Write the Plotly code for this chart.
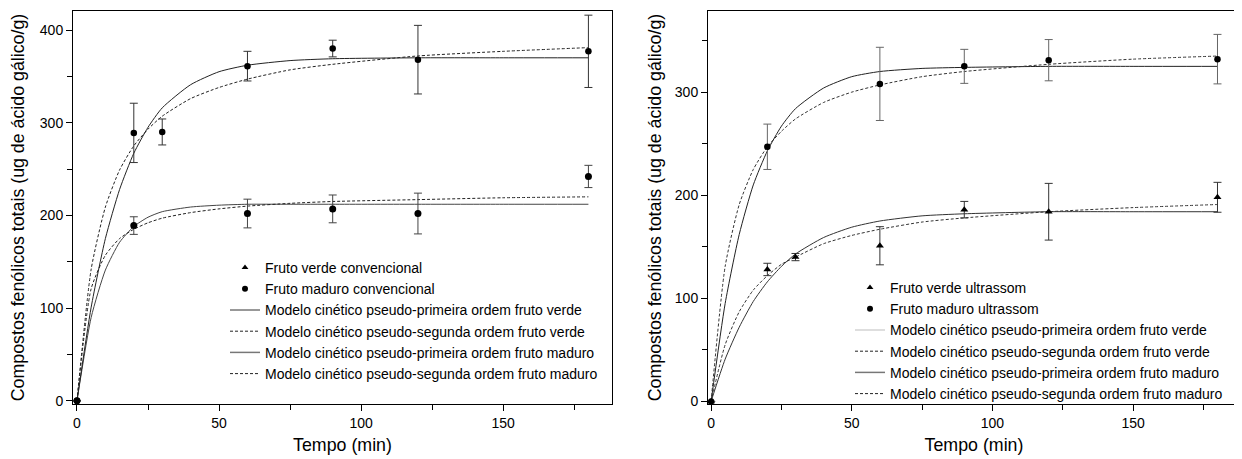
import plotly.graph_objects as go

# ---------------- data: left panel (convencional) ----------------
t_verde_conv = [0, 20, 60, 90, 120, 180]
y_verde_conv = [0, 189, 202, 207, 202, 242]
e_verde_conv = [0, 9.5, 15.5, 15, 22, 12]

t_maduro_conv = [0, 20, 30, 60, 90, 120, 180]
y_maduro_conv = [0, 289, 290, 361, 380, 368, 377]
e_maduro_conv = [0, 32, 14, 16, 9, 37, 39]

# model curves
t_model = [0, 5, 10, 15, 20, 25, 30, 40, 50, 60, 75, 90, 120, 150, 180]
pfo_verde_conv = [0, 90, 141, 171, 188, 198, 204, 209, 211, 212, 212, 212, 212, 212, 212]
pso_verde_conv = [0, 121, 157, 175, 185, 192, 197, 203, 207, 210, 213, 215, 217, 219, 220]
pfo_maduro_conv = [0, 101, 175, 228, 267, 295, 316, 341, 355, 362, 367, 369, 370, 370, 370]
pso_maduro_conv = [0, 142, 209, 249, 275, 293, 307, 326, 338, 347, 357, 363, 372, 377, 381]

# ---------------- data: right panel (ultrassom) ----------------
t_verde_us = [0, 20, 30, 60, 90, 120, 180]
y_verde_us = [0, 128, 140, 151, 186, 184, 198]
e_verde_us = [0, 6, 3.5, 18.5, 8, 27.5, 14.5]

t_maduro_us = [0, 20, 60, 90, 120, 180]
y_maduro_us = [0, 247, 308, 325, 331, 332]
e_maduro_us = [0, 22, 35.5, 16.5, 20, 24]

pfo_verde_us = [0, 41, 72, 97, 116, 131, 143, 159, 169, 175, 180, 182, 184, 184, 184]
pso_verde_us = [0, 55, 87, 108, 122, 133, 140, 153, 161, 167, 174, 178, 184, 188, 191]
pfo_maduro_us = [0, 95, 162, 210, 243, 267, 284, 304, 315, 320, 323, 324, 325, 325, 325]
pso_maduro_us = [0, 131, 191, 225, 247, 262, 274, 290, 300, 307, 315, 320, 327, 332, 335]

legend_conv = ["Fruto verde convencional", "Fruto maduro convencional"]
legend_us = ["Fruto verde ultrassom", "Fruto maduro ultrassom"]
legend_models = [
    "Modelo cinético pseudo-primeira ordem fruto verde",
    "Modelo cinético pseudo-segunda ordem fruto verde",
    "Modelo cinético pseudo-primeira ordem fruto maduro",
    "Modelo cinético pseudo-segunda ordem fruto maduro",
]

FONT = "Liberation Sans, Arial, sans-serif"
DASH = "3px,2px"
TITLE_SIZE = 17.8
MSIZE = 7

# page body has an 8px default margin; size the figure to fill the rest of the window
OFF = 8
W, H = 1242 - OFF, 459 - OFF

def px(xw):   # window x pixel -> paper fraction
    return (xw - OFF) / W

def py(yw):   # window y pixel (from top) -> paper fraction
    return 1 - (yw - OFF) / H

fig = go.Figure()

def add_panel(xa, ya, leg, names, t_v, y_v, e_v, t_m, y_m, e_m,
              curves, curve_styles, legend_line_styles, verde_symbol, verde_err_col, maduro_err_col):
    for yc, (col, dash, w) in zip(curves, curve_styles):
        fig.add_trace(go.Scatter(x=t_model, y=yc, mode="lines", xaxis=xa, yaxis=ya,
                                 line=dict(color=col, dash=dash, width=w, shape="spline", smoothing=0.6),
                                 showlegend=False, hoverinfo="skip"))
    fig.add_trace(go.Scatter(x=t_v, y=y_v, mode="markers", xaxis=xa, yaxis=ya,
                             marker=dict(symbol=verde_symbol, size=MSIZE, color="black"),
                             error_y=dict(type="data", array=e_v, visible=True, color=verde_err_col,
                                          thickness=1, width=4),
                             showlegend=False))
    fig.add_trace(go.Scatter(x=t_m, y=y_m, mode="markers", xaxis=xa, yaxis=ya,
                             marker=dict(symbol="circle", size=MSIZE - 0.5, color="black"),
                             error_y=dict(type="data", array=e_m, visible=True, color=maduro_err_col,
                                          thickness=1, width=4),
                             showlegend=False))
    fig.add_trace(go.Scatter(x=[None], y=[None], mode="markers", xaxis=xa, yaxis=ya, legend=leg,
                             marker=dict(symbol="triangle-up", size=6, color="black"), name=names[0]))
    fig.add_trace(go.Scatter(x=[None], y=[None], mode="markers", xaxis=xa, yaxis=ya, legend=leg,
                             marker=dict(symbol="circle", size=6, color="black"), name=names[1]))
    for nm, (col, dash, w) in zip(legend_models, legend_line_styles):
        fig.add_trace(go.Scatter(x=[None], y=[None], mode="lines", xaxis=xa, yaxis=ya, legend=leg,
                                 line=dict(color=col, dash=dash, width=w), name=nm))

add_panel("x", "y", "legend", legend_conv,
          t_verde_conv, y_verde_conv, e_verde_conv, t_maduro_conv, y_maduro_conv, e_maduro_conv,
          [pfo_verde_conv, pso_verde_conv, pfo_maduro_conv, pso_maduro_conv],
          [("#444444", "solid", 1), ("#222222", DASH, 1), ("#222222", "solid", 1), ("#222222", DASH, 1)],
          [("#333333", "solid", 1), ("#222222", DASH, 1), ("#777777", "solid", 1.5), ("#222222", DASH, 1)],
          "circle", "#444444", "#333333")

add_panel("x2", "y2", "legend2", legend_us,
          t_verde_us, y_verde_us, e_verde_us, t_maduro_us, y_maduro_us, e_maduro_us,
          [pfo_verde_us, pso_verde_us, pfo_maduro_us, pso_maduro_us],
          [("#333333", "solid", 1), ("#333333", DASH, 1), ("#222222", "solid", 1), ("#333333", DASH, 1)],
          [("#c8c8c8", "solid", 1.2), ("#222222", DASH, 1), ("#777777", "solid", 1.5), ("#222222", DASH, 1)],
          "triangle-up", "#333333", "#666666")

axis_common = dict(showline=True, linecolor="black", linewidth=1, mirror=True,
                   ticks="outside", ticklen=6, tickwidth=1, tickcolor="black",
                   showgrid=False, zeroline=False, automargin=False,
                   tickfont=dict(family=FONT, size=14, color="black"))
ytitle = "Compostos fenólicos totais (ug de ácido gálico/g)"
xtitle = "Tempo (min)"

fig.update_layout(
    width=W, height=H,
    margin=dict(l=0, r=0, t=0, b=0),
    paper_bgcolor="white", plot_bgcolor="white",
    font=dict(family=FONT, color="black"),
    xaxis=dict(domain=[px(73), px(612)], range=[-1.4, 188.3], dtick=50, tick0=0,
               minor=dict(dtick=25, ticks="outside", ticklen=5, tickcolor="black"),
               title=dict(text=xtitle, font=dict(size=TITLE_SIZE), standoff=8), **axis_common),
    yaxis=dict(domain=[py(404), py(11)], range=[-3.5, 420.5], dtick=100, tick0=0,
               minor=dict(dtick=50, ticks="outside", ticklen=5, tickcolor="black"),
               title=dict(text=ytitle, font=dict(size=TITLE_SIZE), standoff=10), **axis_common),
    xaxis2=dict(domain=[px(708), px(1240)], range=[-1.1, 188], dtick=50, tick0=0, anchor="y2",
                minor=dict(dtick=25, ticks="outside", ticklen=5, tickcolor="black"),
                title=dict(text=xtitle, font=dict(size=TITLE_SIZE), standoff=8), **axis_common),
    yaxis2=dict(domain=[py(404), py(11)], range=[-2.5, 378.7], dtick=100, tick0=0, anchor="x2",
                minor=dict(dtick=50, ticks="outside", ticklen=5, tickcolor="black"),
                title=dict(text=ytitle, font=dict(size=TITLE_SIZE), standoff=8), **axis_common),
    legend=dict(x=px(225), y=py(252), xanchor="left", yanchor="top",
                bgcolor="rgba(0,0,0,0)", font=dict(family=FONT, size=14, color="black"),
                tracegroupgap=0, itemwidth=30),
    legend2=dict(x=px(850), y=py(272), xanchor="left", yanchor="top",
                 bgcolor="rgba(0,0,0,0)", font=dict(family=FONT, size=14, color="black"),
                 tracegroupgap=0, itemwidth=30),
    showlegend=True,
)

fig.write_html("out.html")
